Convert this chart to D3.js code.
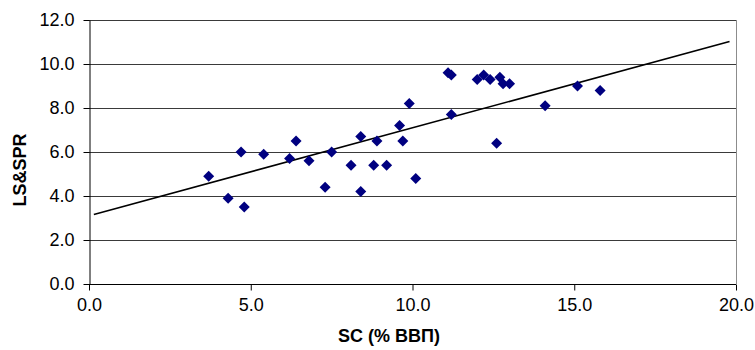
<!DOCTYPE html>
<html>
<head>
<meta charset="utf-8">
<script src="https://cdn.jsdelivr.net/npm/d3@7"></script>
<style>
  body { margin: 0; background: #fff; }
  text { font-family: "Liberation Sans", Arial, sans-serif; }
</style>
</head>
<body>
<script>
// data
var scValues = [3.7, 4.3, 4.7, 4.8, 5.4, 6.2, 6.4, 6.8, 7.3, 7.5, 8.1, 8.4, 8.4, 8.8, 8.9, 9.2, 9.6, 9.7, 9.9, 10.1,
                11.1, 11.2, 11.2, 12.0, 12.2, 12.4, 12.6, 12.7, 12.8, 13.0, 14.1, 15.1, 15.8];
var lsValues = [4.9, 3.9, 6.0, 3.5, 5.9, 5.7, 6.5, 5.6, 4.4, 6.0, 5.4, 6.7, 4.2, 5.4, 6.5, 5.4, 7.2, 6.5, 8.2, 4.8,
                9.6, 9.5, 7.7, 9.3, 9.5, 9.3, 6.4, 9.4, 9.1, 9.1, 8.1, 9.0, 8.8];
var xTicks = [0, 5, 10, 15, 20];
var yTicks = [0, 2, 4, 6, 8, 10, 12];
var trendRange = [0.15, 19.8];
var trendIntercept = 3.1, trendSlope = 0.4;

var points = scValues.map(function(d, i){ return {x: d, y: lsValues[i]}; });

var svg = d3.select("body").append("svg")
    .attr("width", 755)
    .attr("height", 350);

var xScale = d3.scaleLinear().domain([0, 20]).range([89, 736]);
var yScale = d3.scaleLinear().domain([0, 12]).range([284, 20]);

// gridlines
svg.append("g").selectAll("line")
    .data(yTicks.slice(1))
    .enter().append("line")
    .attr("x1", xScale(0)).attr("x2", xScale(20))
    .attr("y1", function(d){ return Math.round(yScale(d)) + 0.5; })
    .attr("y2", function(d){ return Math.round(yScale(d)) + 0.5; })
    .attr("stroke", "#3a3a3a")
    .attr("stroke-width", 1);

// right border
svg.append("line")
    .attr("x1", xScale(20) + 0.5).attr("x2", xScale(20) + 0.5)
    .attr("y1", yScale(12)).attr("y2", yScale(0))
    .attr("stroke", "#8c8c8c");

var xAxis = d3.axisBottom(xScale).tickValues(xTicks).tickFormat(d3.format(".1f"))
    .tickSizeInner(6).tickSizeOuter(0).tickPadding(8);
var yAxis = d3.axisLeft(yScale).tickValues(yTicks).tickFormat(d3.format(".1f"))
    .tickSizeInner(6).tickSizeOuter(0).tickPadding(9);

var gx = svg.append("g").attr("transform", "translate(0," + (yScale(0) + 0.5) + ")").call(xAxis);
var gy = svg.append("g").attr("transform", "translate(" + (xScale(0) + 0.5) + ",0)").call(yAxis);

[gx, gy].forEach(function(g){
    g.select(".domain").attr("stroke", "#000");
    g.selectAll(".tick line").attr("stroke", "#000");
    g.selectAll(".tick text")
        .attr("fill", "#000")
        .style("font-size", "18px")
        .style("font-family", "'Liberation Sans', Arial, sans-serif");
});
gx.select(".domain").attr("d", "M" + xScale(0) + ",0H" + xScale(20));

// trend line
svg.append("line")
    .attr("x1", xScale(trendRange[0]))
    .attr("y1", yScale(trendIntercept + trendSlope * trendRange[0]))
    .attr("x2", xScale(trendRange[1]))
    .attr("y2", yScale(trendIntercept + trendSlope * trendRange[1]))
    .attr("stroke", "#000")
    .attr("stroke-width", 1.6);

// markers
svg.append("g").selectAll("path")
    .data(points)
    .enter().append("path")
    .attr("d", "M0,-5.5L5.5,0L0,5.5L-5.5,0Z")
    .attr("transform", function(d){ return "translate(" + xScale(d.x) + "," + yScale(d.y) + ")"; })
    .attr("fill", "#000080");

// axis titles
svg.append("text")
    .text("SC (% ВВП)")
    .attr("x", 389).attr("y", 342)
    .attr("text-anchor", "middle")
    .style("font-size", "18px")
    .style("font-weight", "bold");

svg.append("text")
    .text("LS&SPR")
    .attr("transform", "translate(26,170) rotate(-90)")
    .attr("text-anchor", "middle")
    .style("font-size", "18px")
    .style("font-weight", "bold");
</script>
</body>
</html>
